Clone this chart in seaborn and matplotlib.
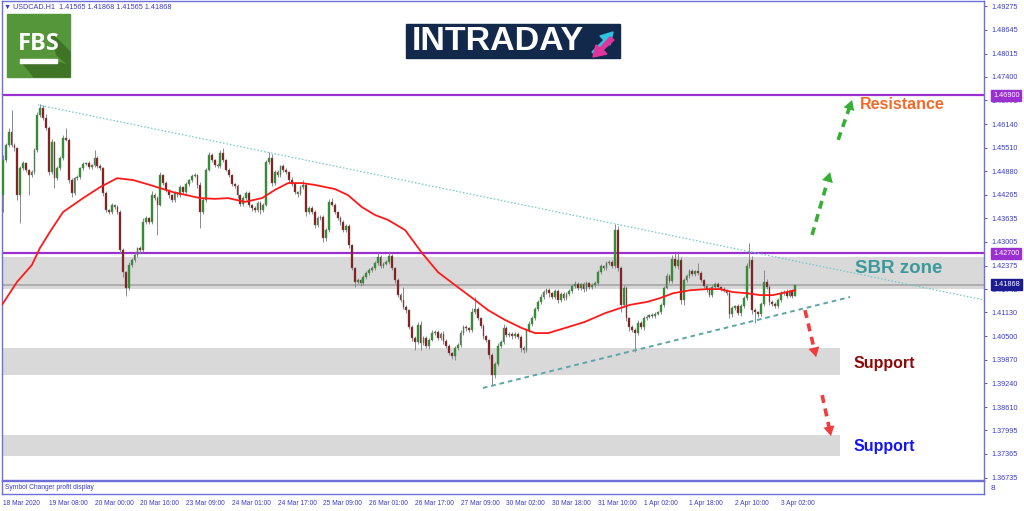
import numpy as np
import matplotlib
matplotlib.use("Agg")
import matplotlib.pyplot as plt
from matplotlib.patches import Rectangle, Polygon
import seaborn as sns

# USDCAD H1, closes (open = previous close)
first_open = 1.4425
closes = [
    1.4518, 1.4558, 1.4593, 1.4558, 1.4550, 1.4425, 1.4497, 1.4510, 1.4492, 1.4478, 1.4486, 1.4545, 1.4638, 1.4657, 1.4630, 1.4604,
    1.4486, 1.4566, 1.4470, 1.4497, 1.4524, 1.4577, 1.4572, 1.4465, 1.4431, 1.4470, 1.4473, 1.4497, 1.4508, 1.4510, 1.4500, 1.4505,
    1.4524, 1.4502, 1.4497, 1.4431, 1.4385, 1.4380, 1.4399, 1.4393, 1.4380, 1.4279, 1.4220, 1.4178, 1.4239, 1.4252, 1.4266, 1.4284,
    1.4279, 1.4353, 1.4364, 1.4353, 1.4425, 1.4417, 1.4399, 1.4478, 1.4457, 1.4439, 1.4425, 1.4412, 1.4431, 1.4425, 1.4446, 1.4433,
    1.4454, 1.4465, 1.4476, 1.4478, 1.4452, 1.4380, 1.4412, 1.4492, 1.4532, 1.4518, 1.4505, 1.4502, 1.4537, 1.4518, 1.4492, 1.4478,
    1.4454, 1.4449, 1.4425, 1.4401, 1.4417, 1.4431, 1.4399, 1.4391, 1.4385, 1.4404, 1.4385, 1.4399, 1.4513, 1.4524, 1.4457, 1.4486,
    1.4478, 1.4502, 1.4492, 1.4486, 1.4465, 1.4454, 1.4433, 1.4428, 1.4446, 1.4452, 1.4380, 1.4391, 1.4380, 1.4345, 1.4364, 1.4367,
    1.4311, 1.4332, 1.4407, 1.4399, 1.4380, 1.4364, 1.4353, 1.4332, 1.4343, 1.4292, 1.4231, 1.4194, 1.4199, 1.4191, 1.4207, 1.4218,
    1.4226, 1.4231, 1.4244, 1.4260, 1.4236, 1.4242, 1.4247, 1.4263, 1.4231, 1.4199, 1.4159, 1.4146, 1.4127, 1.4119, 1.4074, 1.4045,
    1.4034, 1.4079, 1.4032, 1.4045, 1.4024, 1.4040, 1.4058, 1.4061, 1.4045, 1.4056, 1.4037, 1.4024, 1.4005, 1.3997, 1.4018, 1.4026,
    1.4058, 1.4074, 1.4071, 1.4066, 1.4114, 1.4122, 1.4098, 1.4077, 1.4050, 1.4040, 1.4000, 1.3946, 1.3976, 1.4024, 1.4034, 1.4071,
    1.4053, 1.4056, 1.4050, 1.4056, 1.4048, 1.4018, 1.4013, 1.4066, 1.4082, 1.4098, 1.4122, 1.4141, 1.4154, 1.4167, 1.4172, 1.4164,
    1.4154, 1.4170, 1.4146, 1.4162, 1.4151, 1.4162, 1.4170, 1.4183, 1.4188, 1.4178, 1.4188, 1.4175, 1.4191, 1.4180, 1.4186, 1.4191,
    1.4220, 1.4236, 1.4231, 1.4244, 1.4247, 1.4236, 1.4332, 1.4231, 1.4133, 1.4178, 1.4098, 1.4074, 1.4066, 1.4058, 1.4085, 1.4074,
    1.4098, 1.4101, 1.4106, 1.4103, 1.4109, 1.4114, 1.4133, 1.4178, 1.4210, 1.4197, 1.4255, 1.4236, 1.4252, 1.4146, 1.4199, 1.4210,
    1.4223, 1.4215, 1.4223, 1.4218, 1.4199, 1.4183, 1.4175, 1.4159, 1.4180, 1.4188, 1.4180, 1.4175, 1.4170, 1.4164, 1.4109, 1.4125,
    1.4130, 1.4111, 1.4130, 1.4151, 1.4236, 1.4252, 1.4119, 1.4114, 1.4109, 1.4135, 1.4194, 1.4180, 1.4141, 1.4135, 1.4130, 1.4146,
    1.4164, 1.4167, 1.4157, 1.4170, 1.41565, 1.41868,
]
# wick lengths in pips above / below the body
wick_up = [
    13, 5, 10, 58, 6, 4, 5, 6, 4, 3, 5, 6, 8, 11, 8, 12,
    5, 8, 4, 6, 5, 7, 27, 4, 6, 3, 5, 4, 6, 3, 5, 4,
    21, 4, 5, 3, 6, 4, 5, 3, 6, 5, 4, 3, 8, 5, 6, 4,
    5, 12, 6, 4, 10, 5, 6, 8, 4, 5, 3, 4, 6, 3, 5, 4,
    6, 4, 5, 6, 4, 8, 5, 6, 8, 5, 4, 6, 7, 13, 4, 5,
    4, 3, 5, 4, 6, 5, 4, 3, 5, 6, 4, 5, 6, 16, 10, 6,
    5, 4, 6, 5, 4, 8, 5, 4, 6, 13, 5, 6, 4, 5, 6, 5,
    4, 6, 8, 11, 5, 4, 6, 5, 4, 5, 3, 4, 5, 4, 6, 5,
    4, 5, 6, 11, 5, 4, 6, 11, 5, 4, 5, 6, 35, 5, 4, 6,
    5, 8, 12, 5, 4, 6, 8, 5, 4, 6, 8, 5, 4, 3, 5, 6,
    8, 6, 5, 4, 10, 32, 6, 4, 5, 4, 3, 5, 6, 8, 5, 10,
    5, 6, 4, 5, 6, 4, 5, 6, 8, 5, 6, 5, 8, 5, 6, 5,
    4, 6, 5, 4, 6, 5, 4, 6, 8, 5, 4, 6, 5, 4, 5, 6,
    5, 6, 4, 5, 6, 5, 16, 10, 6, 8, 5, 4, 6, 5, 8, 5,
    6, 5, 4, 5, 6, 4, 5, 6, 8, 5, 10, 16, 19, 8, 6, 5,
    6, 5, 4, 21, 5, 4, 6, 5, 8, 5, 6, 4, 5, 4, 6, 5,
    4, 6, 5, 6, 8, 45, 10, 5, 4, 6, 32, 8, 5, 4, 6, 5,
    6, 5, 8, 5, 6, 0,
]
wick_dn = [
    45, 6, 4, 5, 8, 12, 75, 5, 6, 53, 4, 5, 6, 4, 5, 6,
    8, 5, 27, 4, 6, 5, 4, 8, 10, 5, 4, 6, 5, 4, 5, 6,
    5, 4, 6, 8, 5, 6, 4, 5, 6, 8, 12, 21, 5, 4, 6, 5,
    8, 6, 5, 4, 6, 5, 80, 4, 6, 5, 8, 5, 6, 4, 5, 6,
    4, 5, 6, 4, 8, 43, 6, 5, 4, 6, 5, 4, 6, 5, 4, 6,
    5, 6, 8, 5, 4, 6, 5, 8, 6, 5, 10, 6, 4, 5, 8, 6,
    5, 4, 6, 5, 8, 6, 5, 8, 4, 5, 10, 6, 5, 8, 6, 5,
    10, 8, 5, 4, 6, 5, 8, 6, 5, 8, 6, 13, 5, 8, 5, 4,
    5, 6, 4, 5, 6, 5, 4, 6, 5, 8, 6, 5, 6, 8, 6, 8,
    21, 5, 18, 6, 5, 8, 4, 5, 6, 5, 8, 6, 5, 8, 10, 6,
    5, 6, 8, 5, 6, 4, 5, 6, 8, 5, 10, 29, 8, 6, 5, 4,
    6, 5, 8, 5, 6, 10, 8, 5, 4, 6, 5, 4, 6, 5, 4, 10,
    6, 5, 8, 6, 5, 4, 6, 5, 4, 6, 5, 8, 5, 4, 6, 5,
    4, 5, 6, 5, 4, 6, 5, 8, 20, 6, 8, 10, 6, 50, 5, 6,
    8, 5, 4, 6, 5, 4, 5, 6, 4, 5, 6, 5, 8, 10, 12, 6,
    5, 6, 4, 5, 6, 5, 8, 6, 5, 4, 6, 5, 4, 6, 12, 8,
    6, 5, 8, 5, 6, 4, 10, 29, 8, 6, 5, 4, 8, 6, 5, 6,
    5, 6, 5, 4, 6, 0,
]
assert len(closes) == len(wick_up) == len(wick_dn)

# red moving average, read at points along the line (x = bar index)
ma_x = [-0.35, 4.9, 10.1, 12.9, 16.4, 21.0, 28.0, 33.9, 39.9, 45.5, 51.4, 59.4, 68.9, 74.1, 78.7, 84.6,
        90.6, 95.1, 99.7, 104.5, 109.1, 116.1, 120.6, 125.5, 130.1, 134.6, 140.6, 146.5, 152.1, 158.0,
        165.0, 169.6, 175.5, 181.5, 186.0, 190.6, 197.6, 203.5, 210.5, 219.2, 225.2, 229.7, 234.3,
        240.2, 246.2, 250.7, 255.2, 260.1, 264.7, 269.2, 274.1, 277.0]
ma_vals = [1.4133, 1.4194, 1.4239, 1.4284, 1.4327, 1.4380, 1.4417, 1.4446, 1.4470, 1.4465, 1.4452, 1.4433,
           1.4417, 1.4415, 1.4417, 1.4407, 1.4417, 1.4439, 1.4457, 1.4457, 1.4452, 1.4441, 1.4425, 1.4393,
           1.4372, 1.4359, 1.4332, 1.4271, 1.4220, 1.4186, 1.4146, 1.4119, 1.4093, 1.4071, 1.4058, 1.4058,
           1.4074, 1.4088, 1.4111, 1.4133, 1.4141, 1.4151, 1.4164, 1.4172, 1.4175, 1.4175, 1.4167, 1.4164,
           1.4159, 1.4159, 1.4167, 1.4172]

time_labels = ["18 Mar 2020", "19 Mar 08:00", "20 Mar 00:00", "20 Mar 16:00", "23 Mar 09:00", "24 Mar 01:00",
               "24 Mar 17:00", "25 Mar 09:00", "26 Mar 01:00", "26 Mar 17:00", "27 Mar 09:00", "30 Mar 02:00",
               "30 Mar 18:00", "31 Mar 10:00", "1 Apr 02:00", "1 Apr 18:00", "2 Apr 10:00", "3 Apr 02:00"]
price_ticks = [1.49275, 1.48645, 1.48015, 1.47400, 1.46770, 1.46140, 1.45510, 1.44880, 1.44265, 1.43635,
               1.43005, 1.42375, 1.41745, 1.41130, 1.40500, 1.39870, 1.39240, 1.38610, 1.37995, 1.37365, 1.36735]

resistance = 1.46900
sbr_line = 1.42700
last_price = 1.41868
sbr_zone = (1.4175, 1.4260)
support_1 = (1.3946, 1.4018)
support_2 = (1.3731, 1.3787)
upper_trend = ([12.2, 343.0], [1.4665, 1.4146])
lower_trend = ([167.8, 296.2], [1.3912, 1.4154])

W, H = 1024, 511
sns.set_style("white")
plt.rcParams["font.family"] = ["Liberation Sans", "DejaVu Sans"]
BLUE = "#3b3bc8"
FRAME = "#6f6fd8"
SCALE_FS = 5.2
TIME_FS = 4.8

fig = plt.figure(figsize=(W / 100, H / 100), dpi=100)
fig.patch.set_facecolor("white")


def fx(x):
    return x / W


def fy(y):
    return 1 - y / H


ax = fig.add_axes([fx(2), fy(480), (984 - 2) / W, (480 - 1) / H])
ax.set_xlim(-0.35, 343)
ax.set_ylim(1.36672, 1.49413)

# zones and levels
ax.axhspan(*sbr_zone, color="#d9d9d9", zorder=0, lw=0)
ax.axhspan(*support_1, xmin=0, xmax=(840 - 2) / 982, color="#d9d9d9", zorder=0, lw=0)
ax.axhspan(*support_2, xmin=0, xmax=(840 - 2) / 982, color="#d9d9d9", zorder=0, lw=0)
ax.axhline(last_price, color="#a6a6a6", lw=1.2, zorder=1)
ax.axhline(resistance, color="#9b30d0", lw=1.6, zorder=1)
ax.axhline(sbr_line, color="#9b30d0", lw=1.6, zorder=1)

# candles
idx = np.arange(len(closes))
c = np.array(closes)
o = np.r_[first_open, c[:-1]]
body_lo = np.minimum(o, c)
body_hi = np.maximum(o, c)
hi = body_hi + np.array(wick_up) * 1e-4
lo = body_lo - np.array(wick_dn) * 1e-4
ax.vlines(idx, lo, hi, color="#8a8a8a", lw=0.7, zorder=2)
ax.bar(idx, np.maximum(body_hi - body_lo, 0.00008), bottom=body_lo, width=0.62,
       color=np.where(c >= o, "#1f9a1f", "#8e0e0e"), edgecolor="#707070", linewidth=0.3, zorder=3)

sns.lineplot(x=ma_x, y=ma_vals, ax=ax, color="#ff1a1a", lw=1.3, zorder=4)

ax.plot(*upper_trend, color="#72c8c8", lw=0.9, ls=(0, (1.2, 1.6)), zorder=4)
ax.plot(*lower_trend, color="#5ea6a6", lw=1.4, ls=(0, (2.4, 2.0)), zorder=4)


def dashed_arrow(x0, y0, x1, y1, color):
    xm = x0 + (x1 - x0) * 0.8
    ym = y0 + (y1 - y0) * 0.8
    ax.plot([x0, xm], [y0, ym], color=color, lw=2.6, ls=(0, (2.2, 1.6)), zorder=5)
    ax.annotate("", xy=(x1, y1), xytext=(xm, ym),
                arrowprops=dict(arrowstyle="-|>,head_length=0.7,head_width=0.4", color=color,
                                lw=0.01, shrinkA=0, shrinkB=0), zorder=5)


dashed_arrow(282.9, 1.4319, 289.2, 1.4486, "#35b035")
dashed_arrow(292.0, 1.4572, 296.9, 1.4678, "#35b035")
dashed_arrow(280.4, 1.4119, 284.3, 1.3994, "#f03c3c")
dashed_arrow(286.4, 1.3893, 289.5, 1.3784, "#f03c3c")

lab = dict(fontweight="bold", va="center", ha="left", zorder=6)
ax.text(299.6, 1.4665, "Resistance", color="#f26a2a", fontsize=11.5, **lab)
ax.text(298.0, 1.4231, "SBR zone", color="#3e9a9a", fontsize=13.5, **lab)
ax.text(297.3, 1.3978, "Support", color="#8b0a0a", fontsize=11.5, **lab)
ax.text(297.3, 1.3755, "Support", color="#1414ee", fontsize=11.5, **lab)

# price scale
ax.set_xticks([])
ax.set_yticks(price_ticks)
ax.set_yticklabels([f"{p:.5f}" for p in price_ticks])
ax.yaxis.tick_right()
ax.tick_params(axis="y", right=True, left=False, direction="out", length=2.5, width=0.6,
               color=BLUE, pad=3, labelsize=SCALE_FS, labelcolor=BLUE)
for s in ax.spines.values():
    s.set_color(FRAME)
    s.set_linewidth(1.0)
ax.grid(False)


def price_box(price, text, color):
    ax.annotate(text, xy=(1, price), xycoords=("axes fraction", "data"), xytext=(6.6, 0),
                textcoords="offset points", fontsize=SCALE_FS, color="white", va="center", ha="left",
                bbox=dict(boxstyle="square,pad=0.25", fc=color, ec=color), annotation_clip=False, zorder=7)


price_box(resistance, "1.46900", "#9b30d0")
price_box(sbr_line, "1.42700", "#9b30d0")
price_box(last_price, "1.41868", "#1c1c90")

# indicator sub-window with the time scale
ax2 = fig.add_axes([fx(2), fy(494), (984 - 2) / W, (494 - 481) / H])
ax2.set_xlim(ax.get_xlim())
ax2.set_yticks([])
ax2.set_xticks([16 * k for k in range(len(time_labels))])
ax2.set_xticklabels(time_labels, ha="left")
ax2.tick_params(axis="x", direction="out", length=3, width=0.6, color=BLUE, pad=1.5,
                labelsize=TIME_FS, labelcolor=BLUE)
for s in ax2.spines.values():
    s.set_color(FRAME)
    s.set_linewidth(1.0)
ax2.text(0.003, 0.5, "Symbol Changer profit display", transform=ax2.transAxes, fontsize=TIME_FS,
         color=BLUE, va="center", ha="left")
fig.text(fx(991), fy(488), "8", fontsize=6, color=BLUE, va="center", ha="left")

fig.text(fx(4), fy(7), "\u25bc USDCAD.H1  1.41565 1.41868 1.41565 1.41868", fontsize=SCALE_FS,
         color=BLUE, va="center", ha="left")

# FBS logo
fig.add_artist(Rectangle((fx(7), fy(77)), 63 / W, 63 / H, transform=fig.transFigure,
                         color="#56963a", zorder=10))
fig.add_artist(Polygon([(fx(22), fy(62)), (fx(57), fy(62)), (fx(70), fy(66)), (fx(70), fy(77)),
                        (fx(34), fy(77))], closed=True, transform=fig.transFigure,
                       color="#3f7427", zorder=10))
fig.add_artist(Polygon([(fx(50), fy(33)), (fx(58), fy(40)), (fx(70), fy(52)), (fx(70), fy(66)),
                        (fx(57), fy(55))], closed=True, transform=fig.transFigure,
                       color="#3f7427", zorder=10))
fig.text(fx(38.5), fy(44), "FBS", fontsize=17, fontweight="bold", color="white",
         ha="center", va="center", zorder=11, family=["Open Sans", "DejaVu Sans"])
fig.add_artist(Rectangle((fx(20), fy(63)), 37 / W, 3.5 / H, transform=fig.transFigure,
                         color="white", zorder=11))

# INTRADAY logo
fig.add_artist(Rectangle((fx(406), fy(58)), 214 / W, 34 / H, transform=fig.transFigure,
                         color="#13294b", zorder=10))
fig.text(fx(412), fy(41.5), "INTRADAY", fontsize=24.5, fontweight="bold", color="white",
         ha="left", va="center", zorder=11)
fig.add_artist(Polygon([(fx(592), fy(52)), (fx(604), fy(40)), (fx(600), fy(36)), (fx(613), fy(32)),
                        (fx(610), fy(45)), (fx(606), fy(42)), (fx(596), fy(55))], closed=True,
                       transform=fig.transFigure, color="#2ec4e0", zorder=11))
fig.add_artist(Polygon([(fx(614), fy(40)), (fx(603), fy(50)), (fx(607), fy(54)), (fx(593), fy(57)),
                        (fx(596), fy(45)), (fx(600), fy(48)), (fx(610), fy(37))], closed=True,
                       transform=fig.transFigure, color="#e0359a", zorder=11))

fig.savefig("out.png", dpi=100, facecolor="white")
